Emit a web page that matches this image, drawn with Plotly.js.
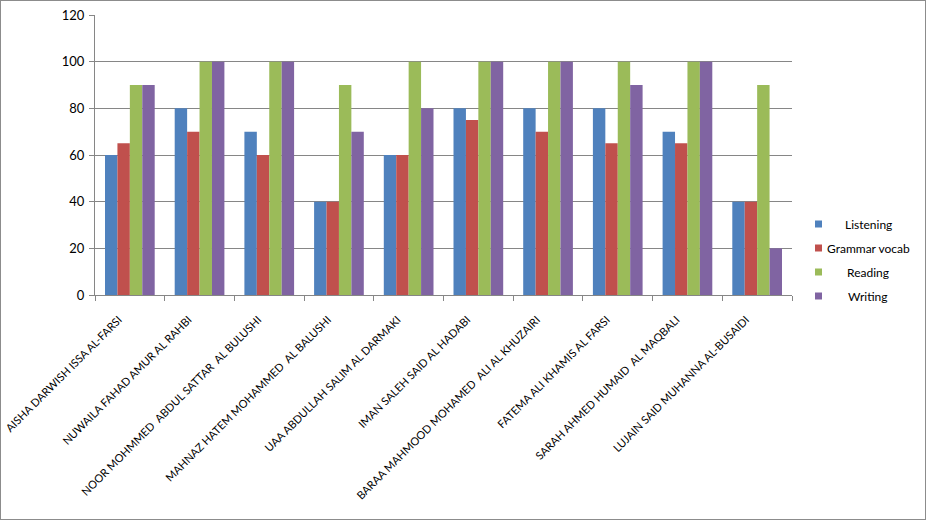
<!DOCTYPE html>
<html>
<head>
<meta charset="utf-8">
<script src="https://cdn.plot.ly/plotly-3.0.1.min.js"></script>
<style>
  html, body { margin: 0; padding: 0; background: #fff; }
  #wrap { position: absolute; left: 0; top: 0; width: 924px; height: 518px; border: 1px solid #8c8c8c; }
  #chart { width: 924px; height: 518px; }
</style>
</head>
<body>
<div id="wrap"><div id="chart"></div></div>
<script>
const students = [
  "AISHA DARWISH ISSA AL-FARSI",
  "NUWAILA FAHAD AMUR AL RAHBI",
  "NOOR MOHMMED  ABDUL SATTAR  AL BULUSHI",
  "MAHNAZ HATEM MOHAMMED  AL BALUSHI",
  "UAA ABDULLAH SALIM AL DARMAKI",
  "IMAN SALEH SAID AL HADABI",
  "BARAA MAHMOOD MOHAMED  ALI AL KHUZAIRI",
  "FATEMA ALI KHAMIS AL FARSI",
  "SARAH AHMED HUMAID  AL MAQBALI",
  "LUJAIN SAID MUHANNA AL-BUSAIDI"
];
const listening     = [60, 80, 70, 40, 60, 80, 80, 80, 70, 40];
const grammarVocab  = [65, 70, 60, 40, 60, 75, 70, 65, 65, 40];
const reading       = [90, 100, 100, 90, 100, 100, 100, 100, 100, 90];
const writing       = [90, 100, 100, 70, 80, 100, 100, 90, 100, 20];
const seriesNames   = ["Listening", "Grammar vocab", "Reading", "Writing"];
const yTicks        = [0, 20, 40, 60, 80, 100, 120];

const colors = ["#4F81BD", "#C0504D", "#9BBB59", "#8064A2"];
const allSeries = [listening, grammarVocab, reading, writing];
const font = "Lato, Open Sans, sans-serif";

const W = 924, H = 518;
const M = { l: 94, r: 133, t: 14, b: 224 };
const plotW = W - M.l - M.r, plotH = H - M.t - M.b;
// container px -> paper fractions (for the hand-made legend)
const px = X => (X - M.l) / plotW;
const py = Y => (H - M.b - Y) / plotH;

const traces = allSeries.map((vals, i) => ({
  type: "bar",
  name: seriesNames[i],
  x: students,
  y: vals,
  marker: { color: colors[i], line: { width: 0 } },
  hoverinfo: "x+y+name",
  showlegend: false
}));

// Legend built from the series names and colours
const legendY0 = 223, legendStep = 24;
const shapes = [], annotations = [];
seriesNames.forEach((name, i) => {
  const cy = legendY0 + i * legendStep;
  shapes.push({
    type: "rect", xref: "paper", yref: "paper",
    x0: px(814), x1: px(821), y0: py(cy - 3.5), y1: py(cy + 3.5),
    fillcolor: colors[i], line: { width: 0 }
  });
  annotations.push({
    xref: "paper", yref: "paper",
    x: px(867), y: py(cy),
    xanchor: "center", yanchor: "middle",
    text: name, showarrow: false,
    font: { family: font, size: 12, color: "#000" }
  });
});

const layout = {
  width: W,
  height: H,
  margin: { l: M.l, r: M.r, t: M.t, b: M.b, pad: 0 },
  paper_bgcolor: "#ffffff",
  plot_bgcolor: "#ffffff",
  barmode: "group",
  bargap: 0.287,
  bargroupgap: 0,
  font: { family: font, size: 12, color: "#000" },
  showlegend: false,
  shapes: shapes,
  annotations: annotations,
  xaxis: {
    type: "category",
    tickangle: -45,
    ticks: "outside",
    tickson: "boundaries",
    ticklen: 5,
    tickcolor: "#868686",
    showline: true,
    linecolor: "#868686",
    linewidth: 1,
    showgrid: false,
    tickfont: { family: font, size: 11, color: "#000" },
    ticklabelstandoff: 13,
    ticklabelshift: -11,
    fixedrange: true
  },
  yaxis: {
    range: [0, 120],
    tickvals: yTicks,
    ticktext: yTicks.map(String),
    ticks: "outside",
    ticklen: 5,
    tickcolor: "#868686",
    showline: true,
    linecolor: "#868686",
    linewidth: 1,
    showgrid: true,
    gridcolor: "#868686",
    gridwidth: 1,
    zeroline: false,
    tickfont: { family: font, size: 13, color: "#000" },
    ticklabelstandoff: 2,
    fixedrange: true
  }
};

Plotly.newPlot("chart", traces, layout, { displayModeBar: false, staticPlot: true });
</script>
</body>
</html>
